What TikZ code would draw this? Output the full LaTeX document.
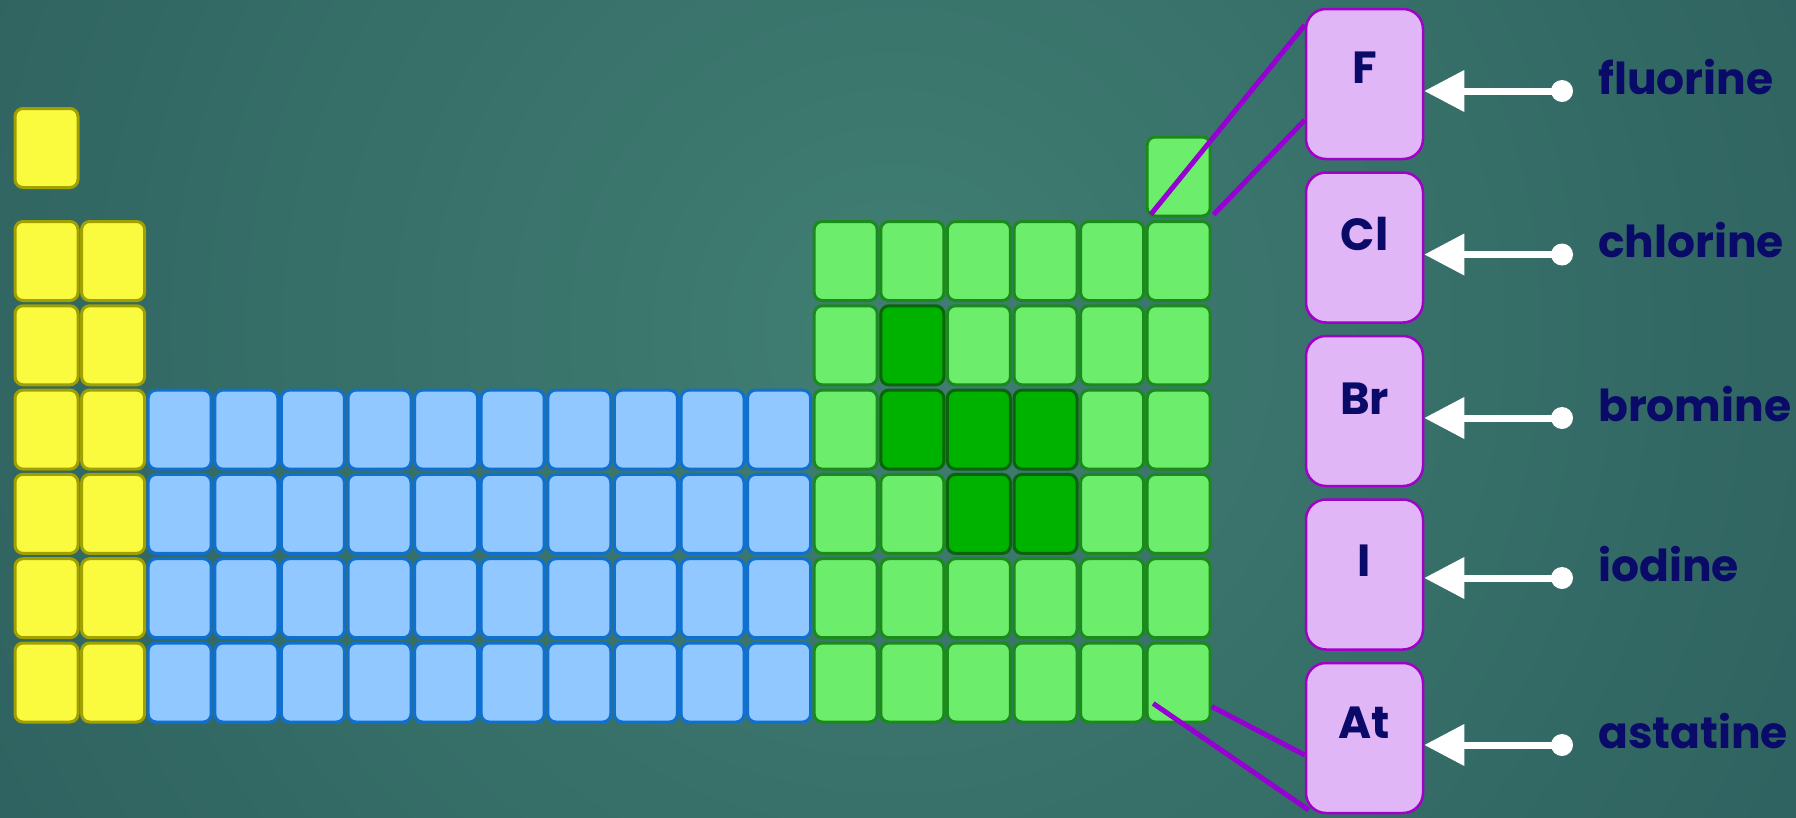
\documentclass[tikz,border=0pt]{standalone}
\usepackage{fontspec}
\newfontfamily\pop{Poppins}
\usetikzlibrary{arrows.meta,calc}
\definecolor{bgin}{RGB}{64,126,114}
\definecolor{bgout}{RGB}{30,72,80}
\definecolor{yfill}{RGB}{250,250,62}
\definecolor{ydraw}{RGB}{160,160,0}
\definecolor{bfill}{RGB}{144,200,255}
\definecolor{bdraw}{RGB}{16,112,208}
\definecolor{lgfill}{RGB}{108,238,108}
\definecolor{lgdraw}{RGB}{26,138,26}
\definecolor{dgfill}{RGB}{0,178,0}
\definecolor{dgdraw}{RGB}{10,100,10}
\definecolor{hfill}{RGB}{225,182,246}
\definecolor{hdraw}{RGB}{160,0,200}
\definecolor{pline}{RGB}{150,0,210}
\definecolor{navy}{RGB}{10,10,105}
\tikzset{
  tile/.style={rectangle, rounded corners=8pt, line width=3pt, minimum width=63pt, minimum height=79pt, inner sep=0pt},
  halo/.style={rectangle, draw=hdraw, fill=hfill, line width=2.5pt, rounded corners=20pt, minimum width=117pt, minimum height=150pt, inner sep=0pt},
  elt/.style={font=\pop\bfseries\fontsize{45}{50}\selectfont, text=navy, inner sep=0pt, text depth=0pt},
  lbl/.style={font=\pop\bfseries\fontsize{44}{52}\selectfont, text=navy, inner sep=0pt, anchor=base west},
  dot/.style={circle, fill=white, minimum size=22pt, inner sep=0pt},
  arr/.style={white, line width=7pt, -{Triangle[length=40pt,width=40pt]}},
  pl/.style={pline, line width=5pt}
}
\begin{document}
\begin{tikzpicture}[x=1pt,y=-1pt]
\useasboundingbox (0,0) rectangle (1796,817);
\fill[bgout] (0,0) rectangle (1796,817);
\begin{scope}
\clip (0,0) rectangle (1796,817);
\shade[inner color=bgin, outer color=bgout] (893,330) circle (2000pt);
\end{scope}
% hydrogen
\node[tile, fill=yfill, draw=ydraw] (t-1-1) at (46.5,148) {};
% groups 1-2
\foreach \r in {2,...,7}{
  \foreach \c in {1,2}{
    \node[tile, fill=yfill, draw=ydraw] (t-\r-\c) at ({46.5+66.6*(\c-1)},{261+84.3*(\r-2)}) {};
  }
}
% transition
\foreach \r in {4,...,7}{
  \foreach \c in {3,...,12}{
    \node[tile, fill=bfill, draw=bdraw] (t-\r-\c) at ({46.5+66.6*(\c-1)},{261+84.3*(\r-2)}) {};
  }
}
% p-block
\foreach \r in {2,...,7}{
  \foreach \c in {13,...,18}{
    \pgfmathtruncatemacro\k{\r*100+\c}
    \def\fc{lgfill}\def\dc{lgdraw}
    \ifnum\k=314 \def\fc{dgfill}\def\dc{dgdraw}\fi
    \ifnum\k=414 \def\fc{dgfill}\def\dc{dgdraw}\fi
    \ifnum\k=415 \def\fc{dgfill}\def\dc{dgdraw}\fi
    \ifnum\k=416 \def\fc{dgfill}\def\dc{dgdraw}\fi
    \ifnum\k=515 \def\fc{dgfill}\def\dc{dgdraw}\fi
    \ifnum\k=516 \def\fc{dgfill}\def\dc{dgdraw}\fi
    \node[tile, fill=\fc, draw=\dc] (t-\r-\c) at ({46.5+66.6*(\c-1)},{261+84.3*(\r-2)}) {};
  }
}
\node[tile, fill=lgfill, draw=lgdraw] (ttop) at ({46.5+66.6*17},176.5) {};
% halogen boxes
\node[halo] (bF) at (1364.5,84) {};
\node[halo] (bCl) at (1364.5,247.5) {};
\node[halo] (bBr) at (1364.5,411) {};
\node[halo] (bI) at (1364.5,574.5) {};
\node[halo] (bAt) at (1364.5,738) {};
\node[elt] (eF) at (1364.5,68) {F};
\node[elt] (eCl) at (1364.5,233.5) {Cl};
\node[elt] (eBr) at (1364.5,399) {Br};
\node[elt] (eI) at (1364.5,561) {I};
\node[elt] (eAt) at (1364.5,723) {At};
% purple connector lines
\draw[pl] ([shift={(5pt,3pt)}]ttop.south west) -- ([yshift=59pt]bF.west);
\draw[pl] ([shift={(2pt,3pt)}]ttop.south east) -- ([yshift=-36pt]bF.west);
\draw[pl] ([shift={(-25.5pt,-21pt)}]t-7-18.center) -- ([shift={(4pt,-72pt)}]bAt.west);
\draw[pl] ([yshift=-24pt]t-7-18.east) -- ([yshift=-17pt]bAt.west);
% arrows and labels
\foreach \n/\y/\t in {F/91/fluorine, Cl/254.5/chlorine, Br/418/bromine, I/578/iodine, At/745/astatine}{
  \node[dot] (d\n) at (1562,\y) {};
  \draw[arr] (d\n.center) -- (d\n -| b\n.east);
  \node[lbl] (l\n) at (1598,\y+3) {\t};
}
\end{tikzpicture}
\end{document}
